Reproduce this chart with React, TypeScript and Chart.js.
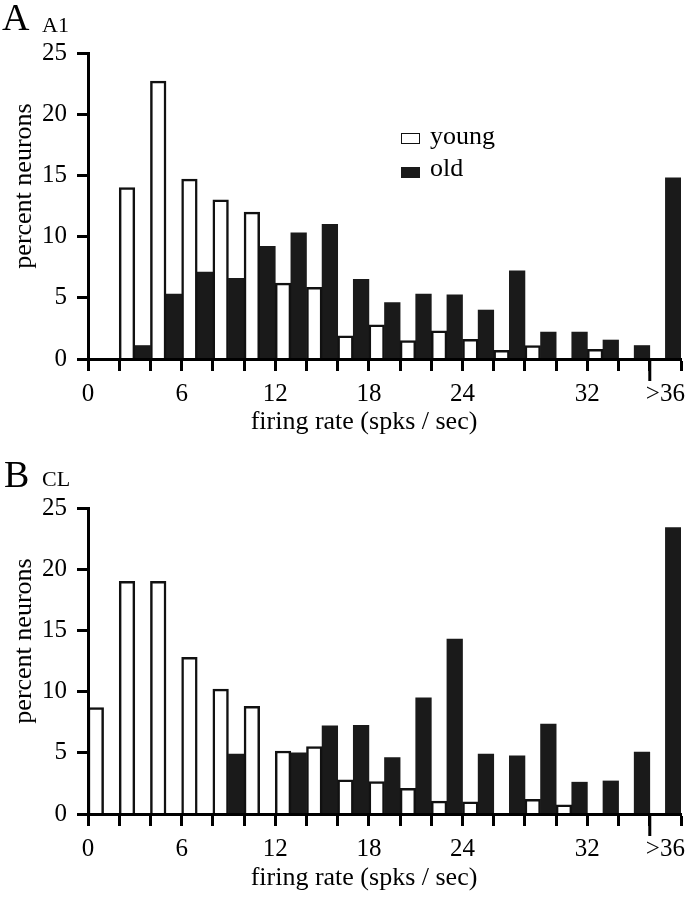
import React, { useEffect, useRef } from 'react';
import { Chart, registerables } from 'chart.js';

Chart.register(...registerables);
Chart.defaults.font.family = "'Liberation Serif', 'Times New Roman', serif";
Chart.defaults.color = '#000';

// ---- data ----
// firing-rate bins of 2 spks/sec: 0-2, 2-4, ..., 34-36, >36 (centres on the rate axis)
const binCenters = [1, 3, 5, 7, 9, 11, 13, 15, 17, 19, 21, 23, 25, 27, 29, 31, 33, 35, 37];
const binEdges = [0, 2, 4, 6, 8, 10, 12, 14, 16, 18, 20, 22, 24, 26, 28, 30, 32, 34, 36, 38];
const labelValues = [0, 6, 12, 18, 24, 32, 37];
const labelTexts = ['0', '6', '12', '18', '24', '32', '>36'];
const openBinEdge = 36;
const yTicksMax = 25;
const yTickStep = 5;

const seriesNames = ['young', 'old'];

// Panel A (A1)
const youngA = [null, 14.0, 22.7, 14.7, 13.0, 12.0, 6.2, 5.85, 1.9, 2.8, 1.5, 2.3, 1.6, 0.7, 1.1, null, 0.8, null, null];
const oldA = [null, 1.1, 5.3, 7.1, 6.6, 9.2, 10.3, 11.0, 6.5, 4.6, 5.3, 5.25, 4.0, 7.2, 2.2, 2.2, 1.55, 1.1, 14.8];

// Panel B (CL)
const youngB = [8.7, 19.0, 19.0, 12.8, 10.2, 8.8, 5.15, 5.5, 2.8, 2.65, 2.1, 1.05, 1.0, null, 1.2, 0.75, null, null, null];
const oldB = [null, null, null, null, 4.9, null, 5.0, 7.2, 7.25, 4.6, 9.5, 14.3, 4.9, 4.75, 7.35, 2.6, 2.7, 5.05, 23.4];

const xTitle = 'firing rate (spks / sec)';
const yTitle = 'percent neurons';

const SERIF = "'Liberation Serif', 'Times New Roman', serif";
const PLOT_H = 306;

const longTickPlugin = {
  id: 'longTick',
  afterDraw(chart: any) {
    const xs = chart.scales.x;
    const { ctx, chartArea } = chart;
    const px = xs.getPixelForValue(openBinEdge);
    ctx.save();
    ctx.strokeStyle = '#000';
    ctx.lineWidth = 3;
    ctx.beginPath();
    ctx.moveTo(px, chartArea.bottom);
    ctx.lineTo(px, chartArea.bottom + 22);
    ctx.stroke();
    ctx.restore();
  },
};

type PanelProps = {
  young: (number | null)[];
  old: (number | null)[];
  top: number;
  height: number;
  padTop: number;
};

function Panel({ young, old, top, height, padTop }: PanelProps) {
  const ref = useRef<HTMLCanvasElement>(null);
  useEffect(() => {
    const chart = new Chart(ref.current as HTMLCanvasElement, {
      type: 'bar',
      data: {
        datasets: [
          {
            label: seriesNames[0],
            data: binCenters.map((x, i) => ({ x, y: young[i] })) as any,
            backgroundColor: '#ffffff',
            borderColor: '#111111',
            borderWidth: 2.5,
            borderSkipped: 'start',
            barThickness: 'flex',
            categoryPercentage: 1,
            barPercentage: 1,
          },
          {
            label: seriesNames[1],
            data: binCenters.map((x, i) => ({ x, y: old[i] })) as any,
            backgroundColor: '#1a1a1a',
            borderColor: '#1a1a1a',
            borderWidth: 0,
            barThickness: 'flex',
            categoryPercentage: 1,
            barPercentage: 1,
          },
        ],
      },
      options: {
        responsive: false,
        animation: false,
        devicePixelRatio: 1,
        layout: { padding: { top: padTop, right: 6, left: 0, bottom: 0 } },
        plugins: {
          legend: { display: false },
          tooltip: { enabled: false },
          title: { display: false },
        },
        scales: {
          x: {
            type: 'linear',
            min: binEdges[0],
            max: binEdges[binEdges.length - 1],
            offset: false,
            afterBuildTicks: (s: any) => {
              const vals = [...binEdges, 37].sort((a, b) => a - b);
              s.ticks = vals.map((v) => ({ value: v }));
            },
            afterFit: (s: any) => {
              s.height = height - padTop - PLOT_H;
            },
            grid: {
              display: true,
              drawOnChartArea: false,
              drawTicks: true,
              tickLength: 12,
              tickWidth: 3,
              offset: false,
              tickColor: (ctx: any) =>
                ctx.tick && ctx.tick.value === 37 ? 'rgba(0,0,0,0)' : '#000',
            },
            border: { display: true, color: '#000', width: 3, z: 1 },
            ticks: {
              autoSkip: false,
              maxRotation: 0,
              minRotation: 0,
              padding: 8,
              color: '#000',
              font: { family: SERIF, size: 25 },
              callback: (v: any) => {
                const i = labelValues.indexOf(Number(v));
                return i >= 0 ? labelTexts[i] : '';
              },
            },
          },
          y: {
            min: 0,
            max: yTicksMax,
            afterFit: (s: any) => {
              s.width = 88;
            },
            grid: {
              display: true,
              drawOnChartArea: false,
              drawTicks: true,
              tickLength: 11,
              tickWidth: 3,
              tickColor: '#000',
            },
            border: { display: true, color: '#000', width: 3, z: 1 },
            ticks: {
              stepSize: yTickStep,
              padding: 10,
              color: '#000',
              font: { family: SERIF, size: 25 },
            },
          },
        },
      } as any,
      plugins: [longTickPlugin],
    });
    return () => chart.destroy();
  }, []);
  return (
    <canvas
      ref={ref}
      width={689}
      height={height}
      style={{ position: 'absolute', left: 0, top, display: 'block', width: 689, height }}
    />
  );
}

function Txt({ x, baseline, size, children, center }: any) {
  return (
    <div
      style={{
        position: 'absolute',
        left: x,
        top: baseline - 0.8375 * size,
        fontFamily: SERIF,
        fontSize: size,
        lineHeight: 1,
        whiteSpace: 'nowrap',
        color: '#000',
        transform: center ? 'translateX(-50%)' : undefined,
      }}
    >
      {children}
    </div>
  );
}

function YTitle({ cx, cy }: any) {
  return (
    <div
      style={{
        position: 'absolute',
        left: cx,
        top: cy,
        fontFamily: SERIF,
        fontSize: 26,
        lineHeight: 1,
        whiteSpace: 'nowrap',
        color: '#000',
        transform: 'translate(-50%, -50%) rotate(-90deg)',
      }}
    >
      {yTitle}
    </div>
  );
}

export default function App() {
  return (
    <div
      style={{
        position: 'absolute',
        left: 0,
        top: 0,
        width: 689,
        height: 899,
        background: '#fff',
        overflow: 'hidden',
      }}
    >
      <Panel young={youngA} old={oldA} top={0} height={420} padTop={53} />
      <Panel young={youngB} old={oldB} top={420} height={479} padTop={88} />

      <Txt x={2} baseline={30} size={38}>A</Txt>
      <Txt x={42} baseline={32} size={22}>A1</Txt>
      <Txt x={4} baseline={487} size={38}>B</Txt>
      <Txt x={42} baseline={486} size={22}>CL</Txt>

      <Txt x={364} baseline={430} size={26} center>{xTitle}</Txt>
      <Txt x={364} baseline={886} size={26} center>{xTitle}</Txt>
      <YTitle cx={23} cy={186} />
      <YTitle cx={23} cy={641} />

      {/* legend */}
      <div style={{ position: 'absolute', left: 401, top: 133, width: 19, height: 11, boxSizing: 'border-box', border: '1.5px solid #111', background: '#fff' }} />
      <Txt x={430} baseline={145} size={26}>{seriesNames[0]}</Txt>
      <div style={{ position: 'absolute', left: 401, top: 167, width: 19, height: 11, background: '#1a1a1a' }} />
      <Txt x={430} baseline={177} size={26}>{seriesNames[1]}</Txt>
    </div>
  );
}
